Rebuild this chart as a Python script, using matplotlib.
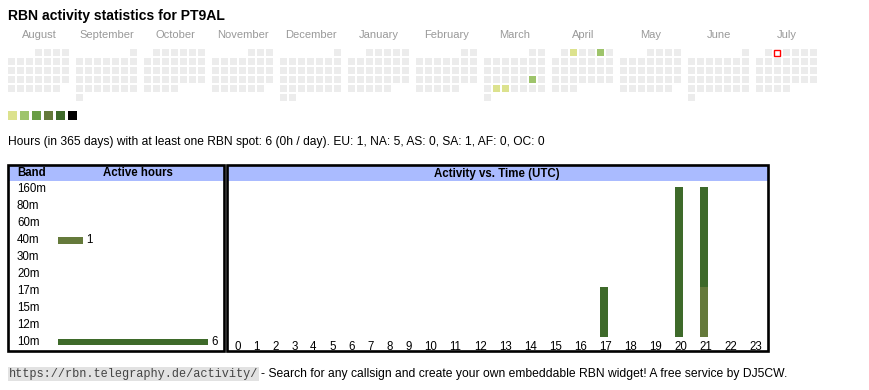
import datetime as dt
import matplotlib
matplotlib.use('Agg')
import matplotlib.pyplot as plt
from matplotlib.patches import Rectangle

callsign = 'PT9AL'
months = ['August', 'September', 'October', 'November', 'December', 'January',
          'February', 'March', 'April', 'May', 'June', 'July']
first_month = (2024, 8)
today = '2025-07-02'

# days with activity and their colour level (1..6)
active_days = ['2025-03-22', '2025-03-25', '2025-03-26', '2025-04-02', '2025-04-05']
active_levels = [2, 1, 1, 1, 2]
level_colors = ['#dce28e', '#9ec46b', '#6a9e46', '#657a3b', '#3e6a2a', '#000000']

total_hours = 6
hours_per_day = 0
continents = ['EU', 'NA', 'AS', 'SA', 'AF', 'OC']
continent_hours = [1, 5, 0, 1, 0, 0]

bands = ['160m', '80m', '60m', '40m', '30m', '20m', '17m', '15m', '12m', '10m']
band_hours = [0, 0, 0, 1, 0, 0, 0, 0, 0, 6]
band_colors = {'40m': '#657a3b', '10m': '#3e6a2a'}

# active hours per UTC hour, split by band (stacked: 40m below 10m)
utc_hours = list(range(24))
hours_40m = [0, 0, 0, 0, 0, 0, 0, 0, 0, 0, 0, 0, 0, 0, 0, 0, 0, 0, 0, 0, 0, 1, 0, 0]
hours_10m = [0, 0, 0, 0, 0, 0, 0, 0, 0, 0, 0, 0, 0, 0, 0, 0, 0, 1, 0, 0, 3, 2, 0, 0]

SANS = 'Liberation Sans'
MONO = 'Liberation Mono'
HEAD_BG = '#aabbff'
CELL_BG = '#ececec'

fig = plt.figure(figsize=(8.7, 3.9), dpi=100)
ax = fig.add_axes([0, 0, 1, 1])
ax.set_xlim(0, 870)
ax.set_ylim(390, 0)
ax.axis('off')

# title
ax.text(8, 16, f'RBN activity statistics for {callsign}', fontsize=10.1,
        fontweight='bold', family=SANS, va='center', ha='left')

# calendar: one block per month, rows = weeks, columns = weekdays (Mon..Sun)
day_level = {d: lv for d, lv in zip(active_days, active_levels)}
y, m = first_month
for i, name in enumerate(months):
    bx = 8 + 68 * i
    ax.text(bx + 31, 35, name, fontsize=8.0, color='#999999', family=SANS,
            ha='center', va='center')
    d = dt.date(y, m, 1)
    offset = d.weekday()
    while d.month == m:
        k = offset + d.day - 1
        cx = bx + 9 * (k % 7)
        cy = 49 + 9 * (k // 7)
        key = d.isoformat()
        if key == today:
            ax.add_patch(Rectangle((cx + 0.5, cy + 0.5), 6, 6, facecolor='white',
                                   edgecolor='red', lw=1.0))
        else:
            col = level_colors[day_level[key] - 1] if key in day_level else CELL_BG
            ax.add_patch(Rectangle((cx, cy), 7, 7, facecolor=col, edgecolor='none'))
        d += dt.timedelta(days=1)
    m += 1
    if m > 12:
        m, y = 1, y + 1

# colour legend
for i, col in enumerate(level_colors):
    ax.add_patch(Rectangle((8 + 12 * i, 111), 9, 9, facecolor=col, edgecolor='none'))

# summary line
cont = ', '.join(f'{c}: {h}' for c, h in zip(continents, continent_hours))
ax.text(8, 142, f'Hours (in 365 days) with at least one RBN spot: {total_hours} '
        f'({hours_per_day}h / day). {cont}', fontsize=8.63, family=SANS,
        ha='left', va='center')

# ---- left table: active hours per band ----
top, bot = 165, 351
ax.add_patch(Rectangle((9, 166), 215, 15, facecolor=HEAD_BG, edgecolor='none'))
ax.add_patch(Rectangle((8, top), 216, bot - top, facecolor='none',
                       edgecolor='black', lw=1.9))
ax.text(17, 173.5, 'Band', fontsize=8.3, fontweight='bold', family=SANS, va='center')
ax.text(138, 173.5, 'Active hours', fontsize=8.3, fontweight='bold', family=SANS,
        va='center', ha='center')
bar_max = max(band_hours)
for i, (b, h) in enumerate(zip(bands, band_hours)):
    ry = 189.5 + 16.95 * i
    ax.text(17, ry, b, fontsize=8.3, family=SANS, va='center')
    if h > 0:
        w = 150 * h / bar_max
        ax.barh(ry, w, left=58, height=6.5, color=band_colors[b])
        ax.text(58 + w + 3, ry, str(h), fontsize=8.3, family=SANS, va='center')

# ---- right panel: activity vs. time ----
ax.add_patch(Rectangle((228, 166), 540, 15, facecolor=HEAD_BG, edgecolor='none'))
ax.add_patch(Rectangle((227, top), 541, bot - top, facecolor='none',
                       edgecolor='black', lw=1.9))
ax.text(497, 173.5, 'Activity vs. Time (UTC)', fontsize=8.3, fontweight='bold',
        family=SANS, va='center', ha='center')
# hour columns are sized by their label, like html table cells
xs = []
left = 228
for h in utc_hours:
    cw = 13 + 6 * len(str(h))
    xs.append(left + cw / 2)
    left += cw
base, full = 337, 150
tmax = max(a + b for a, b in zip(hours_40m, hours_10m))
h40 = [full * v / tmax for v in hours_40m]
h10 = [full * v / tmax for v in hours_10m]
ax.bar([x - 1.5 for x in xs], [-v for v in h40], bottom=base, width=8,
       color=band_colors['40m'])
ax.bar([x - 1.5 for x in xs], [-v for v in h10], bottom=[base - v for v in h40],
       width=8, color=band_colors['10m'])
for x, h in zip(xs, utc_hours):
    ax.text(x, 346.5, str(h), fontsize=8.3, family=SANS, ha='center', va='center')

# footer
url = 'https://rbn.telegraphy.de/activity/'
ax.add_patch(Rectangle((8, 367), 251, 14, facecolor='#e2e2e2', edgecolor='none'))
ax.text(9, 374.5, url, fontsize=8.55, family=MONO, color='#444444', va='center')
ax.text(261, 374.5, '- Search for any callsign and create your own embeddable RBN '
        'widget! A free service by DJ5CW.', fontsize=8.72, family=SANS,
        va='center', ha='left')

fig.savefig('out.png', dpi=100)
